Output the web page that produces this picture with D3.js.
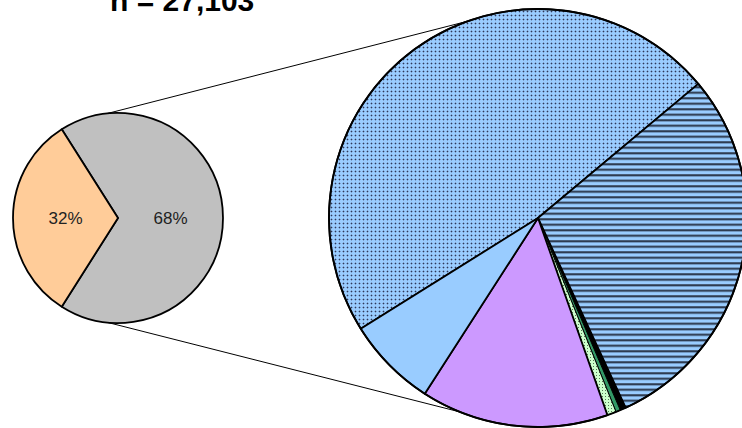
<!DOCTYPE html>
<html><head><meta charset="utf-8">
<script src="https://cdn.jsdelivr.net/npm/d3@7"></script>
<style>html,body{margin:0;padding:0;background:#fff;}svg{display:block;}</style>
</head><body>
<svg id="c" width="742" height="428"></svg>
<script>
// ---- data ----
const title = "n = 27,103";
const mainCategories = ["Other", "Group"];
const mainValues = [32, 68];
const mainLabels = ["32%", "68%"];
const subCategories = ["Dotted", "Striped", "Black", "DarkGreen", "PaleGreen", "Purple", "LightBlue"];
const subValues = [47.8, 29.2, 0.45, 0.35, 0.7, 14.5, 7.0];
const mainColors = ["#FFCC99", "#C0C0C0"];
const subFills = ["url(#dots)", "url(#stripes)", "#000000", "#339966", "url(#greendots)", "#CC99FF", "#99CCFF"];

const svg = d3.select("#c");
const defs = svg.append("defs");
// dotted pattern
const pd = defs.append("pattern").attr("id","dots").attr("patternUnits","userSpaceOnUse").attr("width",4).attr("height",4);
pd.append("rect").attr("width",4).attr("height",4).attr("fill","#99CCFF");
pd.append("rect").attr("x",0).attr("y",1).attr("width",3).attr("height",1).attr("fill","#7d9fcc");
pd.append("rect").attr("x",1).attr("y",0).attr("width",1).attr("height",3).attr("fill","#7d9fcc");
pd.append("rect").attr("x",1).attr("y",1).attr("width",1).attr("height",1).attr("fill","#2a3a5c");
// stripes
const ps = defs.append("pattern").attr("id","stripes").attr("patternUnits","userSpaceOnUse").attr("width",8).attr("height",5.5);
ps.append("rect").attr("width",8).attr("height",5.5).attr("fill","#99CCFF");
ps.append("rect").attr("y",0).attr("width",8).attr("height",1).attr("fill","#4a5f7a");
ps.append("rect").attr("y",1).attr("width",8).attr("height",1.2).attr("fill","#1a2233");
// pale green dotted
const pg = defs.append("pattern").attr("id","greendots").attr("patternUnits","userSpaceOnUse").attr("width",3).attr("height",3);
pg.append("rect").attr("width",3).attr("height",3).attr("fill","#CCFFCC");
pg.append("rect").attr("x",1).attr("y",1).attr("width",1).attr("height",1).attr("fill","#557755");

// ---- connector lines ----
const small = {cx:118, cy:218, r:105};
const big = {cx:538, cy:218, r:209};
const toRad = d => d*Math.PI/180;
const pt = (c, a, r) => [c.cx + r*Math.sin(toRad(a)), c.cy - r*Math.cos(toRad(a))];
const connectors = [[-6, -19.7],[185.5, 201.8]];
connectors.forEach(([a1,a2])=>{
  const p1 = pt(small,a1,small.r), p2 = pt(big,a2,big.r);
  svg.append("line").attr("x1",p1[0]).attr("y1",p1[1]).attr("x2",p2[0]).attr("y2",p2[1])
    .attr("stroke","#000").attr("stroke-width",1);
});

// ---- small pie ----
// gray (68%) starts at upper-left and runs clockwise; orange (32%) is centred on the left
const mainStart = toRad(-90 + 0.32*180);
const pieMain = d3.pie().sort(null).startAngle(mainStart).endAngle(mainStart + 2*Math.PI);
const mainData = pieMain([mainValues[1], mainValues[0]]);
const arcSmall = d3.arc().innerRadius(0).outerRadius(small.r);
const gS = svg.append("g").attr("transform",`translate(${small.cx},${small.cy})`);
gS.selectAll("path").data(mainData).join("path")
  .attr("d",arcSmall)
  .attr("fill",(d,i)=> i===0 ? mainColors[1] : mainColors[0])
  .attr("stroke","#000").attr("stroke-width",1.8).attr("stroke-linejoin","round");
const lblArc = d3.arc().innerRadius(small.r*0.5).outerRadius(small.r*0.5);
gS.selectAll("text").data(mainData).join("text")
  .attr("transform",d=>{const c=lblArc.centroid(d); return `translate(${c[0]},${c[1]})`;})
  .attr("text-anchor","middle").attr("dy","0.35em")
  .attr("font-family","Liberation Sans, Arial, sans-serif").attr("font-size",17).attr("fill","#222")
  .text((d,i)=> i===0 ? mainLabels[1] : mainLabels[0]);

// ---- big pie ----
const subStart = toRad(238);
const pieSub = d3.pie().sort(null).startAngle(subStart).endAngle(subStart + 2*Math.PI);
const subData = pieSub(subValues);
const arcBig = d3.arc().innerRadius(0).outerRadius(big.r);
const gB = svg.append("g").attr("transform",`translate(${big.cx},${big.cy})`);
gB.selectAll("path").data(subData).join("path")
  .attr("d",arcBig)
  .attr("fill",(d,i)=>subFills[i])
  .attr("stroke","#000").attr("stroke-width",(d,i)=> (i>=2&&i<=4)?1:1.8).attr("stroke-linejoin","round");
gB.append("circle").attr("r",big.r).attr("fill","none").attr("stroke","#000").attr("stroke-width",1.8);

// ---- title ----
svg.append("text").attr("x",110).attr("y",11)
  .attr("font-family","Liberation Sans, Arial, sans-serif").attr("font-weight","bold").attr("font-size",30)
  .attr("fill","#000").text(title);
</script>
</body></html>
